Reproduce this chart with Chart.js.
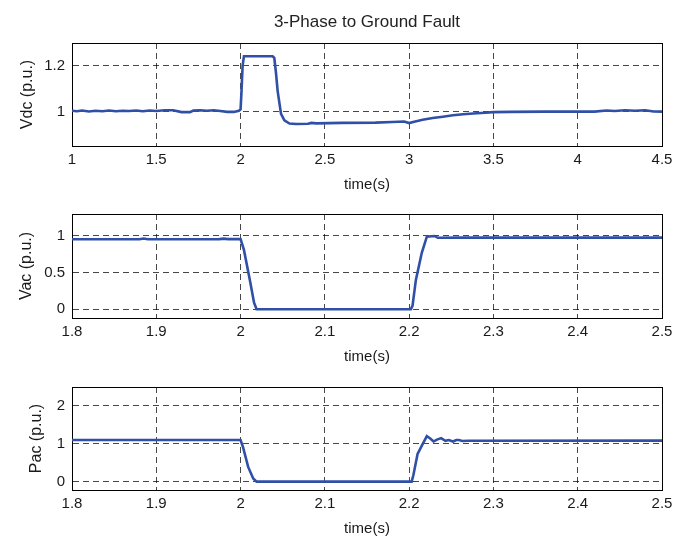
<!DOCTYPE html>
<html>
<head>
<meta charset="utf-8">
<script src="https://cdn.jsdelivr.net/npm/chart.js@4.4.1/dist/chart.umd.min.js"></script>
<style>
  html, body { margin:0; padding:0; background:#fff; overflow:hidden; width:689px; height:536px; }
  .wrap { position:absolute; left:0; width:689px; }
  canvas { display:block; }
</style>
</head>
<body>
<div class="wrap" id="w1" style="top:0px;"><canvas id="c1" width="689" height="194"></canvas></div>
<div class="wrap" id="w2" style="top:196px;"><canvas id="c2" width="689" height="170"></canvas></div>
<div class="wrap" id="w3" style="top:366px;"><canvas id="c3" width="689" height="172"></canvas></div>
<script>
// ---------------- DATA ----------------
const chartTitle = "3-Phase to Ground Fault";
const xAxisTitle = "time(s)";

// Subplot 1: DC voltage
const vdcTime = [1.00,1.03,1.06,1.10,1.14,1.18,1.22,1.26,1.30,1.34,1.38,1.42,1.46,1.50,1.55,1.60,1.65,1.70,1.72,1.76,1.80,1.84,1.88,1.92,1.96,1.99,
                 2.000,2.005,2.012,2.020,2.190,2.200,2.210,2.220,2.240,2.260,2.290,2.330,2.400,2.420,2.450,2.600,2.800,2.900,2.970,
                 3.000,3.030,3.080,3.140,3.200,3.260,3.320,3.380,3.450,3.500,3.600,3.800,4.000,4.100,4.170,4.220,4.280,4.340,4.400,4.450,4.500];
const vdcVals = [1.004,1.002,1.005,1.001,1.004,1.002,1.005,1.002,1.004,1.003,1.005,1.002,1.005,1.003,1.006,1.006,0.998,0.998,1.005,1.006,1.004,1.006,1.003,0.999,0.999,1.004,
                 1.010,1.080,1.200,1.242,1.242,1.235,1.170,1.090,0.990,0.962,0.948,0.946,0.947,0.951,0.949,0.951,0.952,0.955,0.957,
                 0.950,0.956,0.965,0.972,0.978,0.984,0.989,0.992,0.995,0.998,0.999,1.000,1.000,1.000,1.005,1.003,1.006,1.004,1.006,1.001,1.000];
const vdcXTicks = [1,1.5,2,2.5,3,3.5,4,4.5];
const vdcYTicks = [1,1.2];

// Subplot 2: AC voltage
const vacTime = [1.800,1.880,1.885,1.890,1.975,1.980,1.985,2.000,2.004,2.011,2.016,2.019,2.202,2.204,2.208,2.215,2.221,2.230,2.234,2.260,2.500];
const vacVals = [0.955,0.956,0.965,0.956,0.957,0.963,0.957,0.957,0.810,0.400,0.090,0.000,0.000,0.045,0.400,0.770,0.990,1.000,0.975,0.977,0.977];
const vacXTicks = [1.8,1.9,2,2.1,2.2,2.3,2.4,2.5];
const vacYTicks = [0,0.5,1];

// Subplot 3: AC power
const pacTime = [1.800,2.000,2.003,2.009,2.015,2.019,2.203,2.205,2.210,2.216,2.221,2.225,2.229,2.233,2.238,2.243,2.247,2.252,2.256,2.259,2.263,2.270,2.500];
const pacVals = [1.100,1.100,0.905,0.390,0.086,0.000,0.000,0.170,0.730,0.990,1.200,1.140,1.060,1.110,1.150,1.080,1.100,1.060,1.100,1.100,1.075,1.080,1.085];
const pacXTicks = [1.8,1.9,2,2.1,2.2,2.3,2.4,2.5];
const pacYTicks = [0,1,2];

// ---------------- STYLE / BUILD ----------------
Chart.defaults.font.family = "'Liberation Sans', Arial, Helvetica, sans-serif";
Chart.defaults.color = '#1a1a1a';

const lineColor = '#2f50a6';
const gridColor = 'rgba(0,0,0,0.72)';

const framePlugin = {
  id: 'frame',
  beforeDatasetsDraw(chart) {
    const a = chart.chartArea, ctx = chart.ctx;
    ctx.save();
    ctx.strokeStyle = '#000';
    ctx.lineWidth = 1;
    ctx.setLineDash([]);
    ctx.strokeRect(Math.round(a.left)+0.5, Math.round(a.top)+0.5, Math.round(a.right-a.left), Math.round(a.bottom-a.top));
    ctx.restore();
  }
};

function fmt(v) { return String(+Number(v).toFixed(3)); }

function makeChart(id, times, vals, xTicks, yTicks, xMin, xMax, yMin, yMax, yLabel, yTitlePad, padTop, withTitle) {
  const ctx = document.getElementById(id);
  const xHeight = 48;
  return new Chart(ctx, {
    type: 'line',
    data: {
      datasets: [{
        data: times.map((t, i) => ({x: t, y: vals[i]})),
        borderColor: lineColor,
        borderWidth: 2.6,
        pointRadius: 0,
        tension: 0,
        fill: false
      }]
    },
    options: {
      responsive: false,
      animation: false,
      events: [],
      layout: { padding: { left: 0, right: 27, top: padTop, bottom: 0 } },
      plugins: {
        legend: { display: false },
        tooltip: { enabled: false },
        title: withTitle ? {
          display: true, text: chartTitle, fullSize: false,
          color: '#222', font: { size: 17, weight: 'normal' },
          padding: { top: 12, bottom: 10.6 }
        } : { display: false }
      },
      scales: {
        x: {
          type: 'linear', min: xMin, max: xMax,
          afterBuildTicks: s => { s.ticks = xTicks.map(v => ({value: v})); },
          afterFit: s => { s.height = xHeight; },
          grid: { color: gridColor, lineWidth: 1, drawTicks: false },
          border: { display: true, color: '#000', dash: [6, 4] },
          ticks: { padding: 5, font: { size: 15 }, color: '#1a1a1a', callback: v => fmt(v), maxRotation: 0, autoSkip: false },
          title: { display: true, text: xAxisTitle, font: { size: 15 }, color: '#1a1a1a', padding: { top: 0, bottom: 0 } }
        },
        y: {
          type: 'linear', min: yMin, max: yMax,
          afterBuildTicks: s => { s.ticks = yTicks.map(v => ({value: v})); },
          afterFit: s => { s.width = 72; },
          grid: { color: gridColor, lineWidth: 1, drawTicks: false },
          border: { display: true, color: '#000', dash: [6, 4] },
          ticks: { padding: 7, font: { size: 15 }, color: '#1a1a1a', callback: v => fmt(v), autoSkip: false },
          title: { display: true, text: yLabel, font: { size: 16 }, color: '#1a1a1a', padding: { top: yTitlePad, bottom: 0 } }
        }
      }
    },
    plugins: [framePlugin]
  });
}

makeChart('c1', vdcTime, vdcVals, vdcXTicks, vdcYTicks, 1, 4.5, 0.85, 1.3, 'Vdc (p.u.)', 18.4, 0, true);
makeChart('c2', vacTime, vacVals, vacXTicks, vacYTicks, 1.8, 2.5, -0.12, 1.3, 'Vac (p.u.)', 17.4, 18, false);
makeChart('c3', pacTime, pacVals, pacXTicks, pacYTicks, 1.8, 2.5, -0.22, 2.5, 'Pac (p.u.)', 27.4, 21, false);
</script>
</body>
</html>
